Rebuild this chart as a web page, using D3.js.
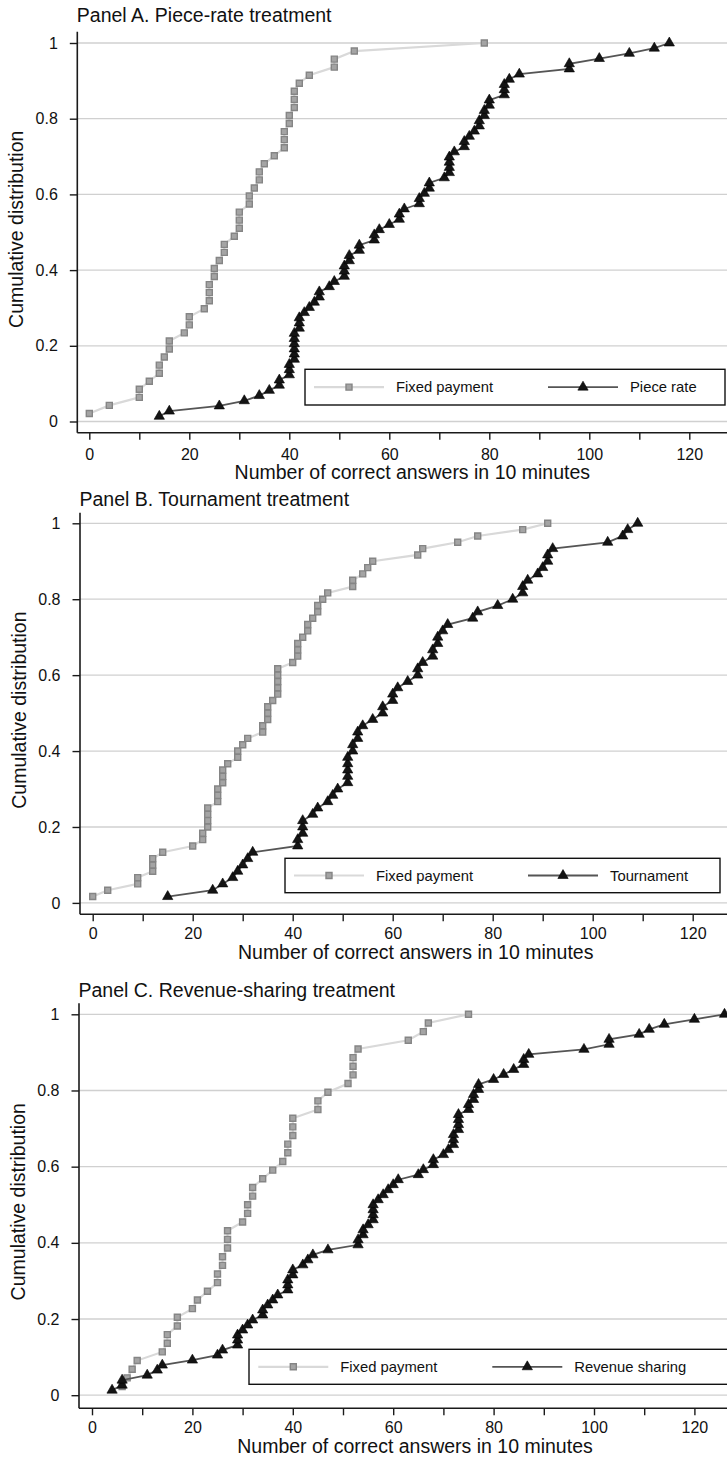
<!DOCTYPE html>
<html>
<head>
<meta charset="utf-8">
<script src="https://cdn.jsdelivr.net/npm/d3@7"></script>
<style>
  body { margin: 0; background: #fff; }
  svg text { font-family: "Liberation Sans", Arial, Helvetica, sans-serif; fill: #111; }
</style>
</head>
<body>
<div id="chart-area"></div>
<script>
// correct answers in 10 minutes, one value per subject (sorted)
let fixedA = [0,4,10,10,12,14,14,15,16,16,19,20,20,23,24,24,24,25,25,26,27,27,29,30,30,30,32,32,33,34,34,35,37,39,39,39,40,40,41,41,41,42,44,49,49,53,79];
let pieceA = [14,16,26,31,34,36,38,38,40,40,40,41,41,41,41,41,41,42,42,42,43,44,45,46,46,48,49,51,51,51,52,52,54,54,57,57,58,60,62,62,63,66,66,67,68,68,71,72,72,72,72,73,75,75,76,77,78,78,79,79,80,80,83,83,83,84,86,96,96,102,108,113,116];

let fixedB = [0,3,9,9,12,12,12,14,20,22,22,23,23,23,23,25,25,25,26,26,26,27,29,29,30,31,34,34,35,35,35,36,37,37,37,37,37,40,41,41,41,42,43,43,44,45,45,46,47,52,52,54,55,56,65,66,73,77,86,91];
let tournB = [15,24,26,28,29,30,31,32,41,41,42,42,42,44,45,47,48,49,51,51,51,51,51,52,52,53,53,54,56,58,58,60,60,61,63,65,65,66,68,68,69,69,70,71,76,77,81,84,86,86,87,89,90,91,91,92,103,106,107,109];

let fixedC = [6,7,8,9,14,15,15,17,17,20,21,23,25,25,26,26,27,27,27,30,31,31,32,32,34,36,38,39,39,40,40,40,45,45,47,51,52,52,52,53,63,66,67,75];
let revC = [4,6,6,11,13,14,20,25,26,29,29,29,30,31,32,34,34,35,36,37,39,39,39,40,40,42,43,44,47,53,53,54,54,55,56,56,56,56,57,58,59,60,61,65,66,68,68,70,71,72,72,72,73,73,73,73,75,75,76,76,77,77,80,82,84,86,86,87,98,103,103,109,111,114,120,126];

let panelTitles = ["Panel A. Piece-rate treatment", "Panel B. Tournament treatment", "Panel C. Revenue-sharing treatment"];
let treatNames = ["Piece rate", "Tournament", "Revenue sharing"];
let fixedName = "Fixed payment";

let yTicks = [0, 0.2, 0.4, 0.6, 0.8, 1];
let yTickLabels = ["0", "0.2", "0.4", "0.6", "0.8", "1"];
let xTicks = [0,10,20,30,40,50,60,70,80,90,100,110,120];
let xTitle = "Number of correct answers in 10 minutes";
let yTitle = "Cumulative distribution";

let W = 727, H = 1458;

// layout of each panel (pixel positions)
let layout = [
  {axisX: 77.3, x0: 89.3, ppu: 5.0, y1: 43, y0: 421.5, xAxisY: 432.7, yAxisTop: 31.7,
   titleY: 22, tickPad: 9.2, xTitleY: 479.3, box: [305, 369.3, 725, 405], lx: 314},
  {axisX: 80, x0: 92.7, ppu: 5.0, y1: 523.3, y0: 902.9, xAxisY: 914.3, yAxisTop: 512.7,
   titleY: 506, tickPad: 6, xTitleY: 958.7, box: [285, 858.3, 720, 892.7], lx: 294},
  {axisX: 79, x0: 92.0, ppu: 5.02, y1: 1014.3, y0: 1395.2, xAxisY: 1408.3, yAxisTop: 1003.3,
   titleY: 997, tickPad: 6.6, xTitleY: 1453, box: [249, 1349.3, 745, 1384.3], lx: 258.3}
];

let series = [[fixedA, pieceA], [fixedB, tournB], [fixedC, revC]];

let svg = d3.select("#chart-area")
        .append("svg")
        .attr("width", W)
        .attr("height", H);

let squareSym = d3.symbol().type(d3.symbolSquare).size(36);
let triSym = d3.symbol().type(d3.symbolTriangle).size(46);

function cdf(values){
    return values.map((v, i) => ({x: v, y: (i + 1) / values.length}));
}

function drawMarkers(g, pts, kind, x, y){
    g.selectAll(null)
        .data(pts)
        .enter()
        .append("path")
        .attr("transform", d => "translate(" + x(d.x) + "," + y(d.y) + ")")
        .attr("d", kind == "sq" ? squareSym : triSym)
        .attr("fill", kind == "sq" ? "#a4a4a4" : "#141414")
        .attr("stroke", kind == "sq" ? "#858585" : "#000")
        .attr("stroke-width", kind == "sq" ? 1.4 : 0.6);
}

layout.forEach(function(p, k){
    let g = svg.append("g");
    let x = d3.scaleLinear().domain([0, 120]).range([p.x0, p.x0 + 120 * p.ppu]);
    let y = d3.scaleLinear().domain([0, 1]).range([p.y0, p.y1]);

    // gridlines
    g.selectAll(null)
        .data(yTicks)
        .enter()
        .append("line")
        .attr("x1", p.axisX).attr("x2", W)
        .attr("y1", d => y(d)).attr("y2", d => y(d))
        .attr("stroke", "#d0d0d0")
        .attr("stroke-width", 1.3);

    // y axis
    let ya = g.append("g")
        .attr("transform", "translate(" + p.axisX + ",0)")
        .call(d3.axisLeft(y).tickValues(yTicks)
            .tickFormat((d, i) => yTickLabels[i])
            .tickSize(7.5).tickPadding(12));
    ya.attr("font-family", null).attr("font-size", 16);
    ya.select(".domain").remove();
    ya.selectAll(".tick line").attr("stroke", "#1a1a1a").attr("stroke-width", 1.4);
    g.append("line")
        .attr("x1", p.axisX).attr("x2", p.axisX)
        .attr("y1", p.yAxisTop).attr("y2", p.xAxisY)
        .attr("stroke", "#1a1a1a").attr("stroke-width", 1.6);

    // x axis
    let xa = g.append("g")
        .attr("transform", "translate(0," + p.xAxisY + ")")
        .call(d3.axisBottom(x).tickValues(xTicks)
            .tickFormat(d => d % 20 == 0 ? d : "")
            .tickSize(7).tickPadding(p.tickPad));
    xa.attr("font-family", null).attr("font-size", 16);
    xa.select(".domain").remove();
    xa.selectAll(".tick line").attr("stroke", "#1a1a1a").attr("stroke-width", 1.4);
    g.append("line")
        .attr("x1", p.axisX).attr("x2", W)
        .attr("y1", p.xAxisY).attr("y2", p.xAxisY)
        .attr("stroke", "#1a1a1a").attr("stroke-width", 1.6);

    // titles
    g.append("text")
        .attr("x", p.axisX - 0.5).attr("y", p.titleY)
        .style("font-size", "19.5px")
        .text(panelTitles[k]);
    g.append("text")
        .attr("x", p.x0 + 323).attr("y", p.xTitleY)
        .attr("text-anchor", "middle")
        .style("font-size", "19.5px")
        .text(xTitle);
    g.append("text")
        .attr("transform", "translate(" + (p.axisX - 54) + "," + ((p.y0 + p.y1) / 2 - 3) + ") rotate(-90)")
        .attr("text-anchor", "middle")
        .style("font-size", "19.5px")
        .text(yTitle);

    // series
    let line = d3.line().x(d => x(d.x)).y(d => y(d.y));
    let fPts = cdf(series[k][0]);
    let tPts = cdf(series[k][1]);
    g.append("path").datum(fPts).attr("d", line)
        .attr("fill", "none").attr("stroke", "#d9d9d9").attr("stroke-width", 2.2);
    drawMarkers(g, fPts, "sq", x, y);
    g.append("path").datum(tPts).attr("d", line)
        .attr("fill", "none").attr("stroke", "#555").attr("stroke-width", 1.8);
    drawMarkers(g, tPts, "tri", x, y);

    // legend
    let b = p.box;
    let cy = (b[1] + b[3]) / 2;
    g.append("rect")
        .attr("x", b[0]).attr("y", b[1])
        .attr("width", b[2] - b[0]).attr("height", b[3] - b[1])
        .attr("fill", "#fff").attr("stroke", "#111").attr("stroke-width", 1.4);
    let items = [
        {name: fixedName, color: "#d9d9d9", w: 2.2, kind: "sq", off: 0},
        {name: treatNames[k], color: "#555", w: 1.8, kind: "tri", off: 234}
    ];
    items.forEach(function(it){
        let lx = p.lx + it.off;
        g.append("line")
            .attr("x1", lx).attr("x2", lx + 70)
            .attr("y1", cy).attr("y2", cy)
            .attr("stroke", it.color).attr("stroke-width", it.w);
        g.append("path")
            .attr("transform", "translate(" + (lx + 35) + "," + cy + ")")
            .attr("d", it.kind == "sq" ? squareSym : triSym)
            .attr("fill", it.kind == "sq" ? "#a4a4a4" : "#141414")
            .attr("stroke", it.kind == "sq" ? "#858585" : "#000")
            .attr("stroke-width", it.kind == "sq" ? 1.4 : 0.6);
        g.append("text")
            .attr("x", lx + 82).attr("y", cy + 5.2)
            .style("font-size", "14.8px")
            .text(it.name);
    });
});
</script>
</body>
</html>
